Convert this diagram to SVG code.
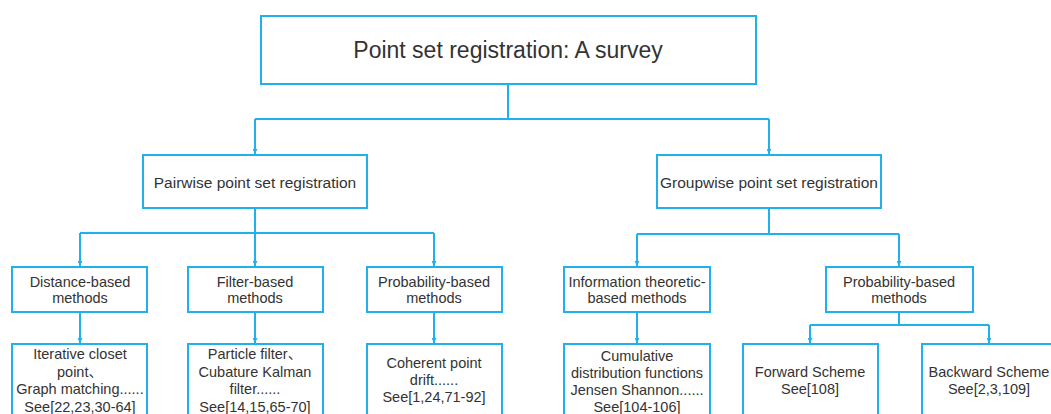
<svg xmlns="http://www.w3.org/2000/svg" width="1051" height="414" viewBox="0 0 1051 414">
<defs>
<style>
.box{fill:#fff;stroke:#20b0ec;stroke-width:2}
.ln{fill:none;stroke:#20b0ec;stroke-width:2}
text{font-family:"Liberation Sans","Noto Sans CJK SC",Arial,sans-serif;fill:#333;text-anchor:middle}
.t1{font-size:23px}
.t2{font-size:15.5px}
.t3{font-size:14.5px}
</style>
<marker id="ah" viewBox="0 0 10 10" refX="10" refY="5" markerWidth="5" markerHeight="5" orient="auto" markerUnits="userSpaceOnUse">
<path d="M0,0 L10,5 L0,10 z" fill="#20b0ec"/>
</marker>
</defs>
<rect width="1051" height="414" fill="#fff"/>
<g id="connectors">
<path class="ln" d="M508,84 V119 M255,119 H769"/>
<path class="ln" d="M255,119 V154" marker-end="url(#ah)"/>
<path class="ln" d="M769,119 V154" marker-end="url(#ah)"/>
<path class="ln" d="M255,208 V233 M80,233 H434"/>
<path class="ln" d="M80,233 V266" marker-end="url(#ah)"/>
<path class="ln" d="M255,233 V266" marker-end="url(#ah)"/>
<path class="ln" d="M434,233 V266" marker-end="url(#ah)"/>
<path class="ln" d="M769,208 V234 M637,234 H899"/>
<path class="ln" d="M637,234 V266" marker-end="url(#ah)"/>
<path class="ln" d="M899,234 V266" marker-end="url(#ah)"/>
<path class="ln" d="M80,312 V343" marker-end="url(#ah)"/>
<path class="ln" d="M255,312 V343" marker-end="url(#ah)"/>
<path class="ln" d="M434,312 V343" marker-end="url(#ah)"/>
<path class="ln" d="M637,312 V343" marker-end="url(#ah)"/>
<path class="ln" d="M899,312 V325 M810,325 H989"/>
<path class="ln" d="M810,325 V343" marker-end="url(#ah)"/>
<path class="ln" d="M989,325 V343" marker-end="url(#ah)"/>
</g>
<g id="root">
<rect class="box" x="261" y="16" width="495" height="68"/>
<text class="t1" x="508" y="58">Point set registration: A survey</text>
</g>
<g id="pairwise">
<rect class="box" x="143" y="155" width="224" height="53"/>
<text class="t2" x="255" y="188">Pairwise point set registration</text>
</g>
<g id="groupwise">
<rect class="box" x="657" y="155" width="224" height="53"/>
<text class="t2" x="769" y="188">Groupwise point set registration</text>
</g>
<g id="distance">
<rect class="box" x="12" y="267" width="135" height="45"/>
<text class="t3" x="80" y="287">Distance-based</text>
<text class="t3" x="80" y="303">methods</text>
</g>
<g id="filter">
<rect class="box" x="188" y="267" width="135" height="45"/>
<text class="t3" x="255" y="287">Filter-based</text>
<text class="t3" x="255" y="303">methods</text>
</g>
<g id="probability">
<rect class="box" x="367" y="267" width="135" height="45"/>
<text class="t3" x="434" y="287">Probability-based</text>
<text class="t3" x="434" y="303">methods</text>
</g>
<g id="information">
<rect class="box" x="564" y="267" width="146" height="45"/>
<text class="t3" x="637" y="287">Information theoretic-</text>
<text class="t3" x="637" y="303">based methods</text>
</g>
<g id="probability2">
<rect class="box" x="826" y="267" width="147" height="45"/>
<text class="t3" x="899" y="287">Probability-based</text>
<text class="t3" x="899" y="303">methods</text>
</g>
<g id="distance-leaf">
<rect class="box" x="12" y="344" width="135" height="80"/>
<text class="t3" x="80" y="359">Iterative closet</text>
<text class="t3" x="80" y="377">point、</text>
<text class="t3" x="80" y="394">Graph matching......</text>
<text class="t3" x="80" y="412">See[22,23,30-64]</text>
</g>
<g id="filter-leaf">
<rect class="box" x="188" y="344" width="135" height="80"/>
<text class="t3" x="255" y="359">Particle filter、</text>
<text class="t3" x="255" y="377">Cubature Kalman</text>
<text class="t3" x="255" y="394">filter......</text>
<text class="t3" x="255" y="412">See[14,15,65-70]</text>
</g>
<g id="probability-leaf">
<rect class="box" x="367" y="344" width="135" height="80"/>
<text class="t3" x="434" y="368">Coherent point</text>
<text class="t3" x="434" y="385">drift......</text>
<text class="t3" x="434" y="402">See[1,24,71-92]</text>
</g>
<g id="information-leaf">
<rect class="box" x="564" y="344" width="146" height="80"/>
<text class="t3" x="637" y="361">Cumulative</text>
<text class="t3" x="637" y="378">distribution functions</text>
<text class="t3" x="637" y="395">Jensen Shannon......</text>
<text class="t3" x="637" y="412">See[104-106]</text>
</g>
<g id="forward">
<rect class="box" x="743" y="344" width="135" height="80"/>
<text class="t3" x="810" y="377">Forward Scheme</text>
<text class="t3" x="810" y="394">See[108]</text>
</g>
<g id="backward">
<rect class="box" x="922" y="344" width="135" height="80"/>
<text class="t3" x="989" y="377">Backward Scheme</text>
<text class="t3" x="989" y="394">See[2,3,109]</text>
</g>
</svg>
